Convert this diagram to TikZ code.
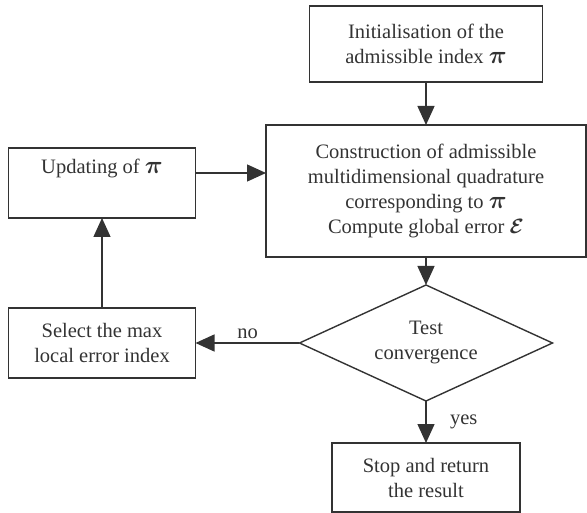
\documentclass[tikz,border=0pt]{standalone}
\usepackage{fontspec}
\setmainfont{Liberation Serif}
\usepackage{bm}
\usetikzlibrary{positioning}
\usetikzlibrary{graphs}
\usetikzlibrary{shapes.geometric}
\usetikzlibrary{arrows.meta}
\definecolor{ink}{RGB}{51,51,51}
\tikzset{bigtri/.tip={Triangle[length=19pt,width=17pt]}}
\newcommand{\idx}{{\fontsize{28}{28}\selectfont$\bm{\pi}$}}
\newcommand{\err}{$\bm{\mathcal{E}}$}

\begin{document}
\begin{tikzpicture}[x=1pt,y=1pt,>=bigtri,color=ink,line width=1.4pt,
        every node/.style={font=\fontsize{20.5}{25}\selectfont,text=ink,align=center},
        box/.style={draw,inner sep=0pt,outer sep=0pt},
        test/.style={box,diamond,aspect=2.2,minimum width=253pt,minimum height=116pt}]
            \useasboundingbox (0,0) rectangle (587,-513);

            \node (init) [box,minimum width=233pt,minimum height=76pt] at (426,-44)
                {Initialisation of the\\admissible index \idx};
            \node (constr) [box,minimum width=320pt,minimum height=132pt,below=43pt of init]
                {Construction of admissible\\multidimensional quadrature\\corresponding to \idx\\Compute global error \err};
            \node (test) [test,below=28pt of constr]  {Test\\convergence};
            \node (stop) [box,minimum width=188pt,minimum height=69pt,below=42pt of test]
                {Stop and return\\the result};
            \node (select) [box,minimum width=187pt,minimum height=70pt,left=104pt of test]
                {Select the max\\local error index};
            \node (update) [box,minimum width=187pt,minimum height=70pt,above=90pt of select]
                {Updating of \idx\\\strut};

            \graph{
                (init) -> (constr) -> (test) -> [edge node={node[midway,right=20pt]{yes}}] (stop);
                (test) -> [edge label={no},swap] (select) -> (update);
            };
            \draw[->] ([yshift=10pt]update.east) -- ([yshift=10pt]update.east -| constr.west);
        \end{tikzpicture}
\end{document}
